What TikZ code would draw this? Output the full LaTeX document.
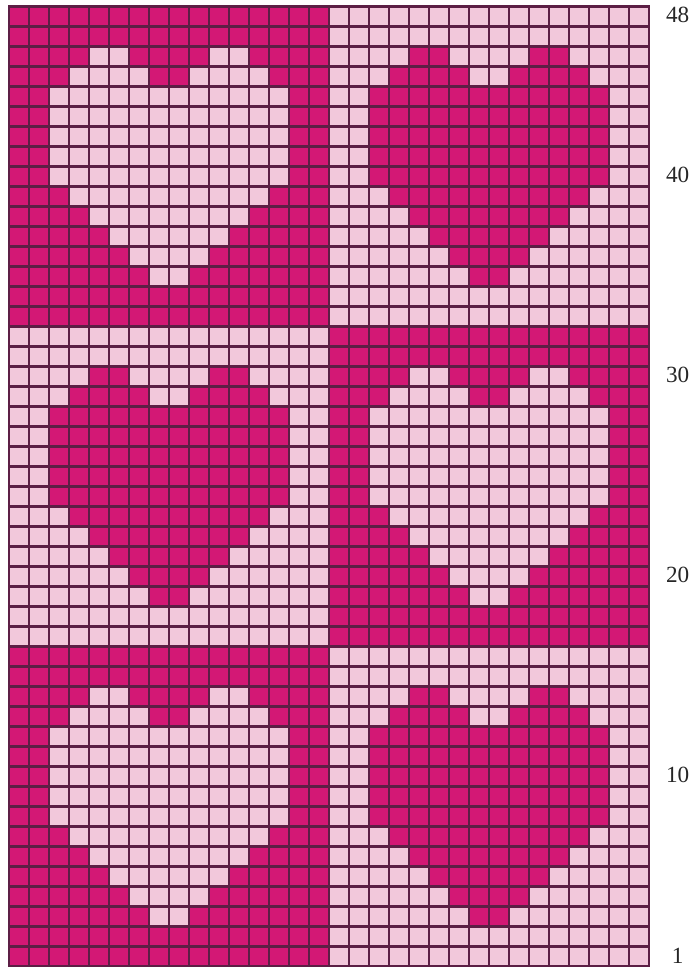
\documentclass[tikz,border=0pt]{standalone}
\usepackage{fontspec}
\setmainfont{Liberation Serif}
\usetikzlibrary{positioning}
\definecolor{rose}{HTML}{D31875}
\definecolor{lightrose}{HTML}{F2C8DB}
\definecolor{plum}{HTML}{5C1F45}
\tikzset{
  cell/.style={fill=#1, draw=none},
  gridline/.style={draw=plum, line width=1.6pt},
  border/.style={draw=plum, line width=1.8pt},
  rowlabel/.style={font=\fontsize{16.5}{18}\selectfont, text=black!85, inner sep=0pt}
}

\begin{document}
\begin{tikzpicture}[x=0.5cm, y=0.5cm]
\useasboundingbox (-0.45,-0.03) rectangle (34.3,48.32);
% blocks: x, y, background, heart
\foreach \bx/\by/\bg/\fg in {0/32/rose/lightrose, 16/32/lightrose/rose,
                             0/16/lightrose/rose, 16/16/rose/lightrose,
                             0/0/rose/lightrose, 16/0/lightrose/rose} {
  \fill[cell=\bg] (\bx,\by) rectangle ++(16,16);
  % heart rows, counted from the top of the block
  \foreach \ra/\rb/\ca/\cb in {2/2/4/5, 2/2/10/11, 3/3/3/6, 3/3/9/12,
                               4/8/2/13, 9/9/3/12, 10/10/4/11,
                               11/11/5/10, 12/12/6/9, 13/13/7/8}
    \fill[cell=\fg] (\bx+\ca,\by+15-\rb) rectangle (\bx+\cb+1,\by+16-\ra);
}
\draw[gridline, step=0.5cm] (0,0) grid (32,48);
\draw[border] (0,0) rectangle (32,48);
% row numbers
\foreach \r in {48,40,30,20,10,1}
  \node[rowlabel] (r\r) at (33.43,\r-0.45) {\r};
\end{tikzpicture}
\end{document}
